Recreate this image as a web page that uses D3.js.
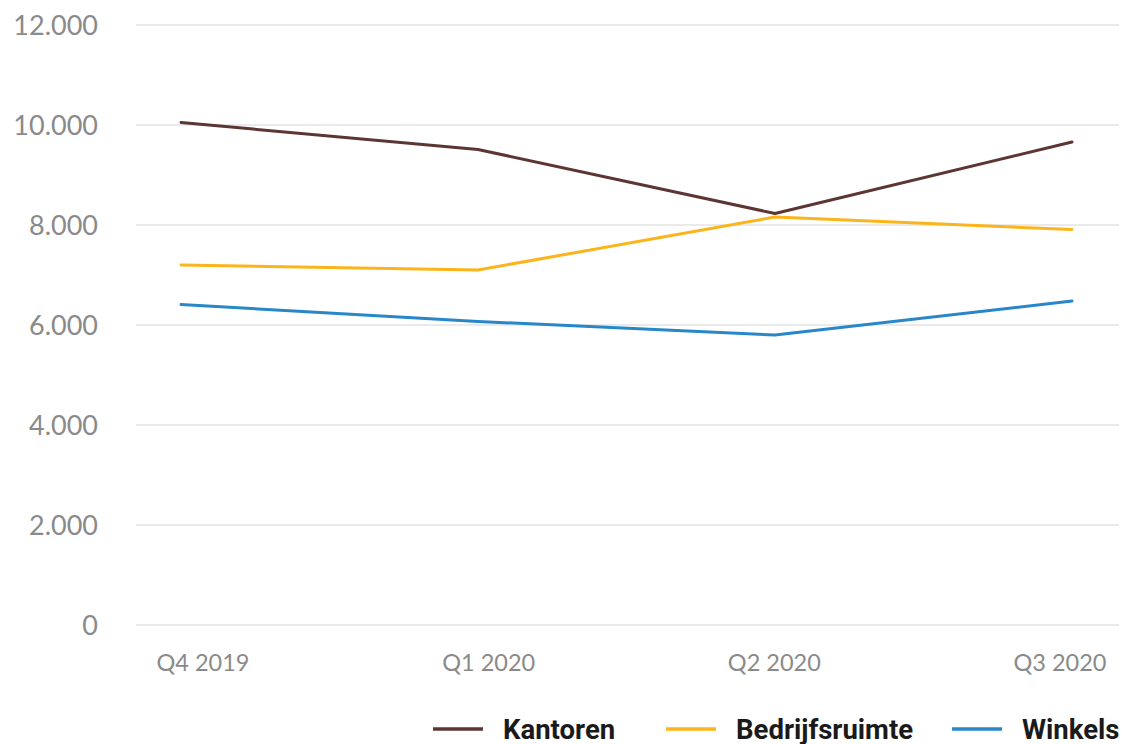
<!DOCTYPE html>
<html><head><meta charset="utf-8">
<script src="https://cdn.jsdelivr.net/npm/d3@7"></script>
<style>html,body{margin:0;padding:0;background:#fff;}svg{display:block;}</style>
</head><body>
<svg id="chart" width="1122" height="744"></svg>
<script>
const categories = ["Q4 2019", "Q1 2020", "Q2 2020", "Q3 2020"];
const kantoren = [10050, 9510, 8230, 9660];
const bedrijfsruimte = [7200, 7100, 8160, 7910];
const winkels = [6410, 6070, 5800, 6480];
const yTicks = [0, 2000, 4000, 6000, 8000, 10000, 12000];
const seriesNames = ["Kantoren", "Bedrijfsruimte", "Winkels"];
const seriesColors = ["#5b3632", "#fbb41a", "#2887c8"];

const series = [kantoren, bedrijfsruimte, winkels].map((v, i) => ({name: seriesNames[i], color: seriesColors[i], values: v}));

const svg = d3.select("#chart");
const x = d3.scalePoint().domain(categories).range([181, 1072]);
const xLabel = d3.scalePoint().domain(categories).range([203, 1060]);
const y = d3.scaleLinear().domain([0, 12000]).range([625, 25]);
const fmt = v => d3.format(",")(v).replace(/,/g, ".");

// gridlines
svg.append("g").selectAll("line").data(yTicks).join("line")
  .attr("x1", 136).attr("x2", 1119)
  .attr("y1", d => y(d)).attr("y2", d => y(d))
  .attr("stroke", "#e3e3e3").attr("stroke-width", 1.6);

// y labels
svg.append("g").selectAll("text").data(yTicks).join("text")
  .attr("x", 98).attr("y", d => y(d)).attr("dy", "0.36em")
  .attr("text-anchor", "end")
  .attr("font-family", "Lato, 'Open Sans', sans-serif")
  .attr("font-size", 27).attr("fill", "#8a8a8a")
  .text(fmt);

// x labels
svg.append("g").selectAll("text").data(categories).join("text")
  .attr("x", d => xLabel(d)).attr("y", 671)
  .attr("text-anchor", "middle")
  .attr("font-family", "Lato, 'Open Sans', sans-serif")
  .attr("font-size", 23.5).attr("fill", "#8a8a8a")
  .text(d => d);

// lines
const line = d3.line().x((d, i) => x(categories[i])).y(d => y(d));
svg.append("g").selectAll("path").data(series).join("path")
  .attr("d", d => line(d.values))
  .attr("fill", "none").attr("stroke", d => d.color)
  .attr("stroke-width", 3).attr("stroke-linejoin", "round").attr("stroke-linecap", "round");

// legend
const legendX = [433, 666, 952];
const lg = svg.append("g").selectAll("g").data(series).join("g")
  .attr("transform", (d, i) => `translate(${legendX[i]},729)`);
lg.append("line").attr("x1", 0).attr("x2", 50).attr("y1", 0).attr("y2", 0)
  .attr("stroke", d => d.color).attr("stroke-width", 3.5);
lg.append("text").attr("x", 70).attr("y", 9.5)
  .attr("font-family", "Roboto, Lato, sans-serif").attr("font-weight", 700)
  .attr("font-size", 27.5).attr("fill", "#1a1a1a")
  .text(d => d.name);
</script>
</body></html>
